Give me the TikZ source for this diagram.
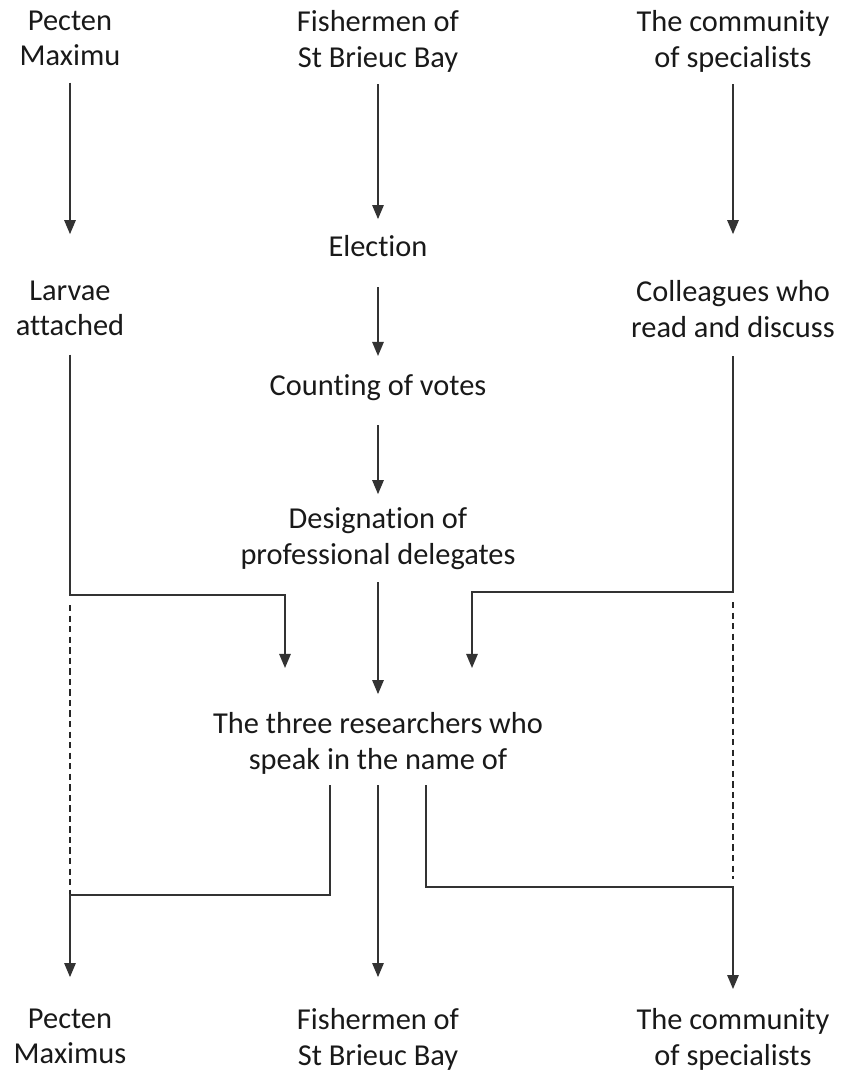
\documentclass[tikz,border=0pt]{standalone}
\usepackage{fontspec}
\setmainfont[Ligatures=NoCommon]{Carlito}
\usepackage{tikz}
\usetikzlibrary{arrows.meta, calc}

\begin{document}
\begin{tikzpicture}
  [
   x=0.02cm, y=-0.02cm, % 1 单位 = 1 像素
   lbl/.style={anchor=north, align=center, inner sep=0pt, text=black!90,
               font=\fontsize{17.3}{20.4}\selectfont,
               execute at begin node=\strut, execute at end node=\strut},
   arr/.style={draw=black!80, line width=0.9pt, -{Triangle[length=8pt,width=6.5pt]}},
   dots/.style={draw=black!85, line width=1.25pt, dash pattern=on 3.6pt off 2.4pt}
  ]
  \useasboundingbox (0,0) rectangle (856,1072);

  % 上排
  \node[lbl] (pecTop)  at (70,10.2)  {Pecten\\Maximu};
  \node[lbl] (fishTop) at (378,10.2) {Fishermen of\\St Brieuc Bay};
  \node[lbl] (commTop) at (733,10.2) {The community\\of specialists};

  % 中间
  \node[lbl] (elect)  at (378,230.7) {Election};
  \node[lbl] (larvae) at (70,280.2)  {Larvae\\attached};
  \node[lbl] (colleg) at (733,280.2) {Colleagues who\\read and discuss};
  \node[lbl] (count)  at (378,369.7) {Counting of votes};
  \node[lbl] (desig)  at (378,507.7) {Designation of\\professional delegates};
  \node[lbl] (three)  at (378,711.7) {The three researchers who\\speak in the name of};

  % 下排
  \node[lbl] (pecBot)  at (70,1008.2)  {Pecten\\Maximus};
  \node[lbl] (fishBot) at (378,1008.2) {Fishermen of\\St Brieuc Bay};
  \node[lbl] (commBot) at (733,1008.2) {The community\\of specialists};

  % 转折点
  \coordinate (lBend)  at (70,595);
  \coordinate (lTip)   at (285,668);
  \coordinate (rBend)  at (733,592);
  \coordinate (rTip)   at (472,668);
  \coordinate (blBend) at (70,895);
  \coordinate (brBend) at (733,887);

  \draw[arr, shorten <=3.25pt, shorten >=26.2pt] (pecTop) -- (larvae);
  \draw[arr, shorten <=3.25pt, shorten >=6.6pt] (fishTop) -- (elect);
  \draw[arr, shorten <=3.25pt, shorten >=26.2pt] (commTop) -- (colleg);
  \draw[arr, shorten <=11.5pt, shorten >=7.8pt] (elect) -- (count);
  \draw[arr, shorten <=10.9pt, shorten >=7.7pt] (count) -- (desig);
  \draw[arr, shorten <=3.5pt, shorten >=10pt] (desig) -- (three);

  \draw[arr, shorten <=4.3pt] (larvae) -- (lBend) -| (lTip);
  \draw[arr, shorten <=4.3pt] (colleg) -- (rBend) -| (rTip);
  \draw[dots, shorten <=5.7pt] (lBend) -- (blBend); % 虚线
  \draw[dots, shorten <=5.7pt, shorten >=4.5pt] (rBend) -- (brBend);

  \draw[arr, shorten >=17.7pt] ($(three.south)+(-48,5.2)$) |- (blBend) -- (pecBot);
  \draw[arr, shorten <=2.9pt, shorten >=17.7pt] (three) -- (fishBot);
  \draw[arr, shorten >=10.9pt] ($(three.south)+(48,5.2)$) |- (brBend) -- (commBot);
\end{tikzpicture}
\end{document}
